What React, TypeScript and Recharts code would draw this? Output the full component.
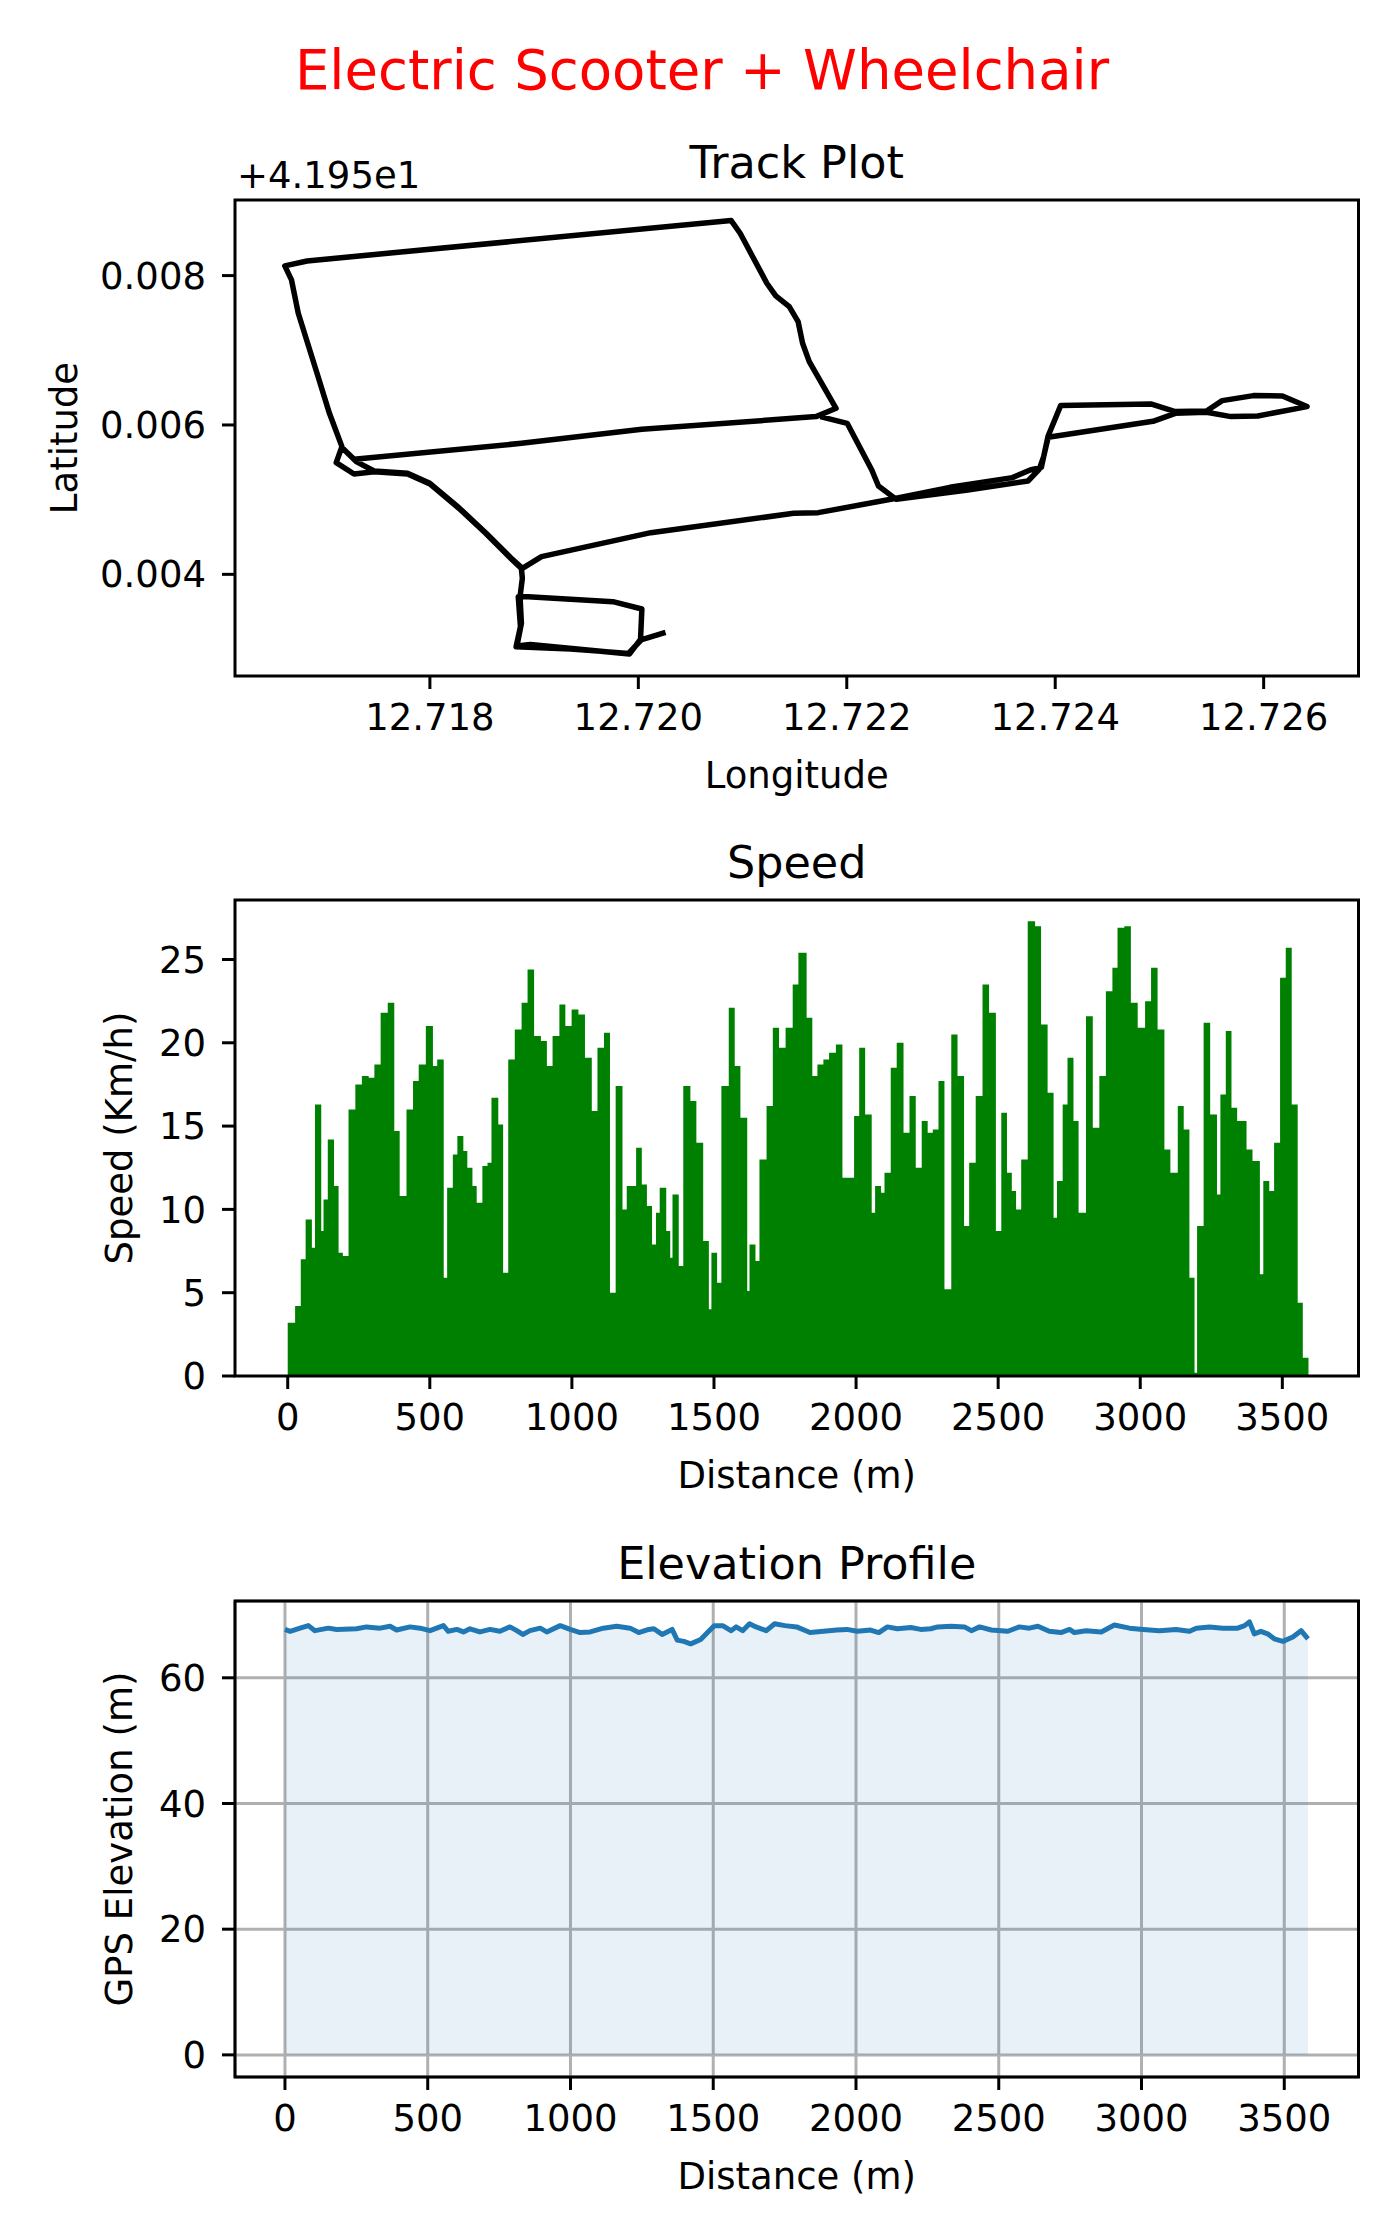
import React from 'react';
import {
  ScatterChart,
  Scatter,
  AreaChart,
  Area,
  XAxis,
  YAxis,
  CartesianGrid,
  ReferenceArea,
} from 'recharts';

// GPS track, points in recording order (latitude as offset from 41.95)
const trackLon = [
  12.720261, 12.720026, 12.719906, 12.719349, 12.718827, 12.718869, 12.718848, 12.718942, 12.719756, 12.720034,
  12.720021, 12.719914, 12.718964, 12.718835, 12.718878, 12.718865, 12.718887, 12.718878, 12.718792, 12.718535,
  12.718278, 12.718, 12.717786, 12.717465, 12.717272, 12.717101, 12.717156, 12.717036, 12.716917, 12.716737,
  12.716672, 12.716608, 12.716822, 12.720891, 12.720977, 12.721233, 12.721319, 12.721448, 12.721533, 12.721576,
  12.72164, 12.721897, 12.721705, 12.720034, 12.718878, 12.717272, 12.717173, 12.717293, 12.717465, 12.717786,
  12.718, 12.718278, 12.718535, 12.718792, 12.718887, 12.719071, 12.72012, 12.72149, 12.721726, 12.722475,
  12.722989, 12.723589, 12.72376, 12.723867, 12.723932, 12.724052, 12.724917, 12.725152, 12.725452, 12.725602,
  12.725902, 12.72618, 12.726416, 12.725944, 12.725687, 12.725452, 12.725152, 12.724938, 12.723932, 12.723889,
  12.723846, 12.723739, 12.723161, 12.722475, 12.722304, 12.72224, 12.722004, 12.721747,
];
const trackLat = [
  0.003223, 0.003121, 0.002942, 0.003, 0.003031, 0.003299, 0.003701, 0.003701, 0.003634, 0.003536,
  0.003129, 0.002933, 0.003062, 0.00304, 0.003344, 0.003701, 0.003946, 0.00408, 0.004192, 0.004549,
  0.004884, 0.00521, 0.005344, 0.005375, 0.005344, 0.005496, 0.00571, 0.006156, 0.006692, 0.007496,
  0.007942, 0.00813, 0.008196, 0.008737, 0.008567, 0.007897, 0.007728, 0.007585, 0.007384, 0.007094,
  0.006848, 0.006223, 0.006112, 0.005942, 0.005754, 0.00554, 0.005674, 0.005509, 0.005384, 0.005353,
  0.005219, 0.004893, 0.004558, 0.004201, 0.00408, 0.004237, 0.004558, 0.004817, 0.004826, 0.005018,
  0.005165, 0.005295, 0.005397, 0.005433, 0.005853, 0.006259, 0.006281, 0.006179, 0.006188, 0.006326,
  0.006393, 0.006388, 0.006246, 0.00612, 0.006112, 0.00617, 0.006156, 0.006049, 0.005835, 0.005576,
  0.005406, 0.00525, 0.005129, 0.005004, 0.005183, 0.005397, 0.006022, 0.006112,
];
const lonTicks = [12.718, 12.72, 12.722, 12.724, 12.726];
const latTicks = [0.004, 0.006, 0.008];

// speed per segment: start distance (m) and speed (km/h)
const speedDist = [
  0, 26, 46, 63, 85, 96, 118, 126, 141, 163, 179, 194, 214, 238, 261, 285, 305, 327, 352, 375,
  394, 418, 441, 461, 486, 511, 526, 549, 561, 581, 597, 618, 632, 650, 665, 685, 703, 717, 741, 758,
  776, 799, 823, 844, 867, 891, 912, 932, 956, 977, 999, 1023, 1046, 1070, 1090, 1113, 1134, 1154, 1178, 1193,
  1209, 1226, 1246, 1264, 1282, 1296, 1309, 1332, 1346, 1354, 1376, 1392, 1417, 1438, 1462, 1482, 1491, 1511, 1526, 1552,
  1573, 1593, 1617, 1625, 1646, 1660, 1685, 1707, 1729, 1752, 1777, 1797, 1826, 1846, 1864, 1885, 1905, 1929, 1952, 1972,
  1993, 2011, 2032, 2055, 2067, 2088, 2100, 2122, 2143, 2167, 2188, 2210, 2231, 2252, 2270, 2290, 2311, 2335, 2357, 2380,
  2398, 2421, 2445, 2468, 2492, 2511, 2531, 2548, 2563, 2581, 2604, 2630, 2651, 2674, 2695, 2707, 2727, 2744, 2765, 2783,
  2809, 2833, 2856, 2879, 2902, 2920, 2944, 2967, 2991, 3017, 3038, 3061, 3085, 3106, 3132, 3153, 3173, 3191, 3200, 3223,
  3246, 3270, 3282, 3301, 3321, 3341, 3374, 3395, 3421, 3433, 3454, 3471, 3492, 3512, 3533, 3554, 3572, 3592,
];
const speedKmh = [
  3.2, 4.2, 7.0, 9.4, 7.7, 16.3, 8.7, 10.6, 14.2, 11.4, 7.4, 7.2, 16.0, 17.5, 18.0, 17.9, 18.7, 21.8, 22.4, 14.7,
  10.8, 16.0, 17.7, 18.7, 21.0, 18.6, 19.0, 5.9, 11.3, 13.3, 14.4, 13.5, 12.5, 11.4, 10.4, 12.6, 12.8, 16.7, 15.1, 6.2,
  19.0, 20.8, 22.4, 24.4, 20.4, 20.1, 18.6, 20.4, 22.3, 21.0, 22.0, 21.7, 19.1, 15.9, 19.7, 20.6, 5.0, 17.4, 10.0, 11.4,
  11.4, 13.7, 11.5, 10.2, 7.9, 9.8, 11.3, 8.7, 7.1, 10.9, 6.6, 17.4, 16.5, 14.0, 8.1, 4.0, 7.4, 5.6, 17.4, 22.1,
  18.6, 15.5, 5.1, 7.9, 6.9, 13.0, 16.2, 20.9, 19.7, 20.9, 23.5, 25.4, 21.5, 18.0, 18.7, 19.0, 19.4, 19.9, 11.9, 11.9,
  15.6, 19.7, 15.7, 9.8, 11.4, 11.0, 12.2, 18.5, 20.0, 14.6, 16.8, 12.5, 15.3, 14.6, 14.8, 17.7, 5.2, 20.5, 18.0, 9.0,
  12.8, 16.8, 23.5, 21.8, 8.7, 15.8, 12.2, 11.1, 10.0, 13.0, 27.3, 27.0, 21.1, 17.0, 9.5, 11.7, 16.3, 19.1, 15.3, 9.8,
  21.6, 14.9, 18.0, 23.1, 24.5, 26.9, 27.0, 22.4, 20.9, 22.5, 24.5, 20.8, 13.6, 12.2, 16.2, 14.8, 5.9, 0.2, 9.0, 21.2,
  15.7, 10.9, 16.9, 20.7, 16.1, 15.3, 13.6, 12.9, 6.1, 11.7, 11.1, 14.0, 23.9, 25.7, 16.3, 4.4, 1.1, 0,
];
const distTicks = [0, 500, 1000, 1500, 2000, 2500, 3000, 3500];
const speedTicks = [0, 5, 10, 15, 20, 25];

// GPS elevation profile
const elevDist = [
  0, 18, 53, 82, 105, 152, 181, 251, 286, 333, 368, 391, 438, 473, 508, 555, 572, 602, 625, 648,
  683, 718, 753, 788, 812, 833, 858, 894, 917, 964, 999, 1034, 1069, 1115, 1162, 1209, 1239, 1274, 1292, 1321,
  1356, 1374, 1397, 1421, 1456, 1486, 1504, 1533, 1562, 1580, 1603, 1627, 1650, 1686, 1715, 1751, 1792, 1839, 1886, 1933,
  1968, 2004, 2051, 2080, 2110, 2145, 2192, 2227, 2262, 2286, 2333, 2380, 2404, 2433, 2474, 2532, 2572, 2607, 2637, 2677,
  2718, 2748, 2765, 2806, 2859, 2905, 2958, 3005, 3063, 3121, 3168, 3192, 3238, 3285, 3337, 3361, 3378, 3395, 3418, 3442,
  3465, 3495, 3530, 3559, 3583,
];
const elevM = [
  67.7, 67.4, 67.9, 68.3, 67.5, 67.9, 67.7, 67.8, 68.1, 67.9, 68.2, 67.6, 68.1, 67.9, 67.5, 68.3, 67.4, 67.7, 67.3, 67.8,
  67.3, 67.7, 67.4, 68.1, 67.5, 66.9, 67.5, 67.9, 67.3, 68.3, 67.7, 67.2, 67.3, 67.9, 68.2, 67.9, 67.2, 67.7, 67.8, 66.9,
  67.7, 66.0, 65.8, 65.4, 66.1, 67.5, 68.3, 68.3, 67.5, 68.1, 67.5, 68.6, 68.1, 67.5, 68.6, 68.3, 68.1, 67.2, 67.4, 67.6,
  67.7, 67.4, 67.6, 67.2, 68.1, 67.8, 68.0, 67.7, 67.8, 68.1, 68.2, 68.1, 67.5, 68.1, 67.6, 67.4, 68.1, 67.9, 68.2, 67.4,
  67.2, 67.7, 67.2, 67.5, 67.3, 68.4, 67.9, 67.7, 67.5, 67.7, 67.4, 67.9, 68.1, 67.9, 67.9, 68.3, 68.9, 67.0, 67.4, 67.0,
  66.2, 65.8, 66.5, 67.5, 66.2,
];
const elevTicks = [0, 20, 40, 60];

const trackData = trackLon.map((lon, i) => ({ lon, lat: trackLat[i] }));
const speedData = speedDist.map((d, i) => ({ d, s: speedKmh[i] }));
const elevData = elevDist.map((d, i) => ({ d, e: elevM[i] }));

const FONT = 'DejaVu Sans';
const W = 1400;
const H = 800;
const margin = { top: 200, right: 41.5, bottom: 0, left: 0 };
const tickStyle = { fontSize: 37, fill: '#000', fontFamily: FONT };
const tickLine = { stroke: '#000', strokeWidth: 3 };

const lonDomain = [12.71613, 12.72691];
const latDomain = [0.002639, 0.009012];
const speedXDomain = [-185.5, 3768];
const speedYDomain = [0, 28.57];
const elevXDomain = [-175, 3760];
const elevYDomain = [-3.52, 72.22];

const Frame = ({ x, y }: { x: number[]; y: number[] }) => (
  <ReferenceArea
    x1={x[0]}
    x2={x[1]}
    y1={y[0]}
    y2={y[1]}
    fill="none"
    stroke="#000"
    strokeWidth={3}
    ifOverflow="visible"
  />
);

const TrackPlot = () => (
  <ScatterChart width={W} height={H} margin={margin}>
    <XAxis
      type="number"
      dataKey="lon"
      domain={lonDomain}
      ticks={lonTicks}
      allowDataOverflow
      interval={0}
      height={124}
      tickFormatter={(v: number) => v.toFixed(3)}
      tick={tickStyle}
      tickLine={tickLine}
      tickSize={13}
      tickMargin={15}
      axisLine={false}
    />
    <YAxis
      type="number"
      dataKey="lat"
      domain={latDomain}
      ticks={latTicks}
      allowDataOverflow
      interval={0}
      width={235}
      tickFormatter={(v: number) => v.toFixed(3)}
      tick={tickStyle}
      tickLine={tickLine}
      tickSize={13}
      tickMargin={16}
      axisLine={false}
    />
    <Scatter
      data={trackData}
      line={{ stroke: '#000', strokeWidth: 5.5, strokeLinejoin: 'round' }}
      lineJointType="linear"
      shape={() => <g />}
      isAnimationActive={false}
    />
    <Frame x={lonDomain} y={latDomain} />
  </ScatterChart>
);

const SpeedPlot = () => (
  <AreaChart width={W} height={H} margin={margin} data={speedData}>
    <XAxis
      type="number"
      dataKey="d"
      domain={speedXDomain}
      ticks={distTicks}
      allowDataOverflow
      interval={0}
      height={124}
      tick={tickStyle}
      tickLine={tickLine}
      tickSize={13}
      tickMargin={15}
      axisLine={false}
    />
    <YAxis
      type="number"
      domain={speedYDomain}
      ticks={speedTicks}
      allowDataOverflow
      interval={0}
      width={235}
      tick={tickStyle}
      tickLine={tickLine}
      tickSize={13}
      tickMargin={16}
      axisLine={false}
    />
    <Area
      type="stepAfter"
      dataKey="s"
      baseValue={0}
      stroke="none"
      fill="#008000"
      fillOpacity={1}
      isAnimationActive={false}
    />
    <Frame x={speedXDomain} y={speedYDomain} />
  </AreaChart>
);

const ElevationPlot = () => (
  <AreaChart width={W} height={H} margin={margin} data={elevData}>
    <CartesianGrid stroke="#b0b0b0" strokeWidth={3} />
    <XAxis
      type="number"
      dataKey="d"
      domain={elevXDomain}
      ticks={distTicks}
      allowDataOverflow
      interval={0}
      height={124}
      tick={tickStyle}
      tickLine={tickLine}
      tickSize={13}
      tickMargin={15}
      axisLine={false}
    />
    <YAxis
      type="number"
      domain={elevYDomain}
      ticks={elevTicks}
      allowDataOverflow
      interval={0}
      width={235}
      tick={tickStyle}
      tickLine={tickLine}
      tickSize={13}
      tickMargin={16}
      axisLine={false}
    />
    <Area
      type="linear"
      dataKey="e"
      baseValue={0}
      stroke="#1f77b4"
      strokeWidth={5}
      strokeLinejoin="round"
      fill="#1f77b4"
      fillOpacity={0.1}
      isAnimationActive={false}
    />
    <Frame x={elevXDomain} y={elevYDomain} />
  </AreaChart>
);

const cx = 796.75;

export default function App() {
  return (
    <div
      style={{
        position: 'absolute',
        left: 0,
        top: 0,
        width: W,
        height: 2240,
        background: '#fff',
        fontFamily: FONT,
      }}
    >
      <div style={{ position: 'absolute', left: 0, top: 0 }}>
        <TrackPlot />
      </div>
      <div style={{ position: 'absolute', left: 0, top: 700 }}>
        <SpeedPlot />
      </div>
      <div style={{ position: 'absolute', left: 0, top: 1401 }}>
        <ElevationPlot />
      </div>
      <svg
        width={W}
        height={2240}
        style={{ position: 'absolute', left: 0, top: 0, pointerEvents: 'none' }}
        fontFamily={FONT}
      >
        <text x={702} y={89} fontSize={54.5} fill="#ff0000" textAnchor="middle">
          Electric Scooter + Wheelchair
        </text>
        <text x={237} y={188} fontSize={37} fill="#000">+4.195e1</text>
        <text x={cx} y={178} fontSize={44.5} fill="#000" textAnchor="middle">Track Plot</text>
        <text x={cx} y={788} fontSize={37} fill="#000" textAnchor="middle">Longitude</text>
        <text x={77} y={438} fontSize={37} fill="#000" textAnchor="middle" transform="rotate(-90 77 438)">
          Latitude
        </text>
        <text x={cx} y={878} fontSize={44.5} fill="#000" textAnchor="middle">Speed</text>
        <text x={cx} y={1488} fontSize={37} fill="#000" textAnchor="middle">Distance (m)</text>
        <text x={132} y={1138} fontSize={37} fill="#000" textAnchor="middle" transform="rotate(-90 132 1138)">
          Speed (Km/h)
        </text>
        <text x={cx} y={1579} fontSize={44.5} fill="#000" textAnchor="middle">Elevation Profile</text>
        <text x={cx} y={2189} fontSize={37} fill="#000" textAnchor="middle">Distance (m)</text>
        <text x={132} y={1839} fontSize={37} fill="#000" textAnchor="middle" transform="rotate(-90 132 1839)">
          GPS Elevation (m)
        </text>
      </svg>
    </div>
  );
}
